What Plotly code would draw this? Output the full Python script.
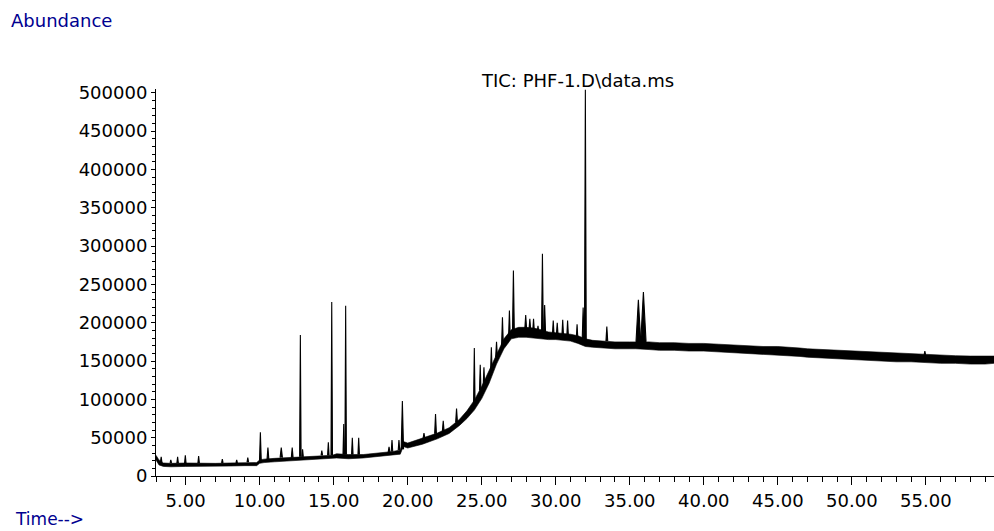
import plotly.graph_objects as go

# ---- data ----
# baseline band (time in min, lower and upper edge of the noisy trace)
band_time = [3.0, 3.2, 3.5, 4.0, 5.0, 6.0, 7.0, 8.0, 9.0, 9.8, 10.0, 10.3, 11.0, 12.0, 13.0,
             14.0, 14.9, 15.2, 16.0, 17.0, 18.0, 19.0, 19.5, 19.7, 20.0, 21.0, 22.0, 22.8,
             23.5, 24.0, 24.5, 25.0, 25.5, 26.0, 26.5, 27.0, 27.5, 28.0, 28.5, 29.0, 29.5,
             30.0, 30.5, 31.0, 31.5, 32.0, 32.5, 33.0, 34.0, 35.0, 35.4, 36.3, 37.0, 38.0,
             39.0, 40.0, 41.0, 42.0, 43.0, 44.0, 45.0, 45.6, 46.5, 47.0, 48.0, 49.0, 50.0,
             51.0, 52.0, 53.0, 54.0, 55.0, 56.0, 57.0, 58.0, 59.0, 59.6]
band_low = [21000, 14500, 12500, 12000, 12500, 12500, 12500, 13000, 13500, 13500, 16500, 17500,
            18500, 19500, 20500, 21500, 22500, 23500, 22500, 23500, 25500, 27500, 28500, 38500,
            36500, 41500, 48500, 55500, 66000, 75000, 86000, 101000, 121000, 146000, 166000,
            179000, 181000, 181000, 180000, 179000, 178000, 178000, 177000, 176000, 173000,
            169000, 168000, 167000, 166000, 166000, 166000, 165000, 164000, 164000, 163000,
            163000, 162000, 161000, 160000, 159000, 158000, 157500, 156000, 155000, 154000,
            153000, 152000, 151000, 150000, 149000, 149000, 148000, 147000, 147000, 146000,
            146000, 147000]
band_high = [27000, 21000, 17000, 16500, 17000, 16500, 16500, 17000, 17500, 17500, 21000, 22000,
             23000, 24000, 25000, 26000, 27000, 29000, 28000, 28000, 30000, 32000, 34000, 45000,
             43000, 49000, 56000, 63000, 74000, 85000, 99000, 117000, 137000, 159000, 179000,
             191000, 194000, 194000, 193000, 191000, 188000, 187000, 186000, 185000, 183000,
             179000, 177000, 176000, 175000, 175000, 175000, 175000, 174000, 174000, 173000,
             173000, 172000, 171000, 170000, 169000, 169000, 168500, 167000, 166000, 165000,
             164000, 163000, 162000, 161000, 160000, 159000, 158500, 157500, 157000, 156500,
             156000, 156500]

# resolved peaks: retention time, height at foot, apex height, half width (min)
peak_time = [3.35, 4.0, 4.46, 4.98, 5.88, 7.48, 8.45, 9.2, 10.05, 10.56, 11.46, 12.2, 12.75,
             12.9, 14.2, 14.64, 14.87, 15.68, 15.81, 16.26, 16.69, 18.74, 18.94, 19.41, 19.64,
             21.1, 21.88, 22.4, 23.3, 24.5, 24.9, 25.15, 25.65, 26.0, 26.4, 26.87, 27.14, 27.97,
             28.25, 28.5, 28.8, 29.1, 29.25, 29.83, 30.1, 30.47, 30.8, 31.44, 31.85, 32.0, 33.45,
             35.58, 35.92, 54.93]
peak_foot = [18000, 17000, 17000, 17000, 17000, 17000, 17000, 18000, 20000, 22000, 24000, 24000,
             25000, 25000, 27000, 27000, 27000, 28000, 28000, 28000, 28000, 31000, 32000, 34000,
             35000, 49000, 55000, 58000, 70000, 96000, 112000, 118000, 138000, 155000, 170000,
             185000, 190000, 192000, 192000, 190000, 188000, 188000, 188000, 186000, 186000,
             185000, 184000, 180000, 180000, 178000, 176000, 175000, 175000, 158000]
peak_top = [25000, 21000, 25000, 27000, 26000, 22000, 21000, 24000, 57000, 37000, 37000, 37000,
            184000, 35000, 33000, 44000, 227000, 68000, 222000, 50000, 50000, 38000, 47000, 47000,
            98000, 56000, 81000, 72000, 88000, 167000, 145000, 142000, 168000, 175000, 207000,
            216000, 268000, 210000, 205000, 205000, 196000, 290000, 223000, 203000, 200000,
            204000, 203000, 198000, 220000, 504000, 195000, 230000, 240000, 163000]
peak_half_width = [0.05, 0.05, 0.05, 0.05, 0.05, 0.05, 0.05, 0.05, 0.06, 0.06, 0.08, 0.06, 0.05,
                   0.05, 0.05, 0.05, 0.05, 0.05, 0.05, 0.05, 0.05, 0.06, 0.05, 0.05, 0.08,
                   0.06, 0.06, 0.06, 0.06, 0.05, 0.05, 0.05, 0.05, 0.06, 0.06, 0.05, 0.06, 0.06,
                   0.05, 0.05, 0.05, 0.06, 0.06, 0.05, 0.05, 0.05, 0.05, 0.05, 0.06, 0.06, 0.06,
                   0.16, 0.18, 0.05]

x_ticks_major = [5, 10, 15, 20, 25, 30, 35, 40, 45, 50, 55]
x_tick_text = ["5.00", "10.00", "15.00", "20.00", "25.00", "30.00", "35.00", "40.00", "45.00",
               "50.00", "55.00"]
y_ticks_major = [0, 50000, 100000, 150000, 200000, 250000, 300000, 350000, 400000, 450000, 500000]
y_tick_text = ["0", "50000", "100000", "150000", "200000", "250000", "300000", "350000",
               "400000", "450000", "500000"]

chart_title = "TIC: PHF-1.D\\data.ms"
y_label = "Abundance"
x_label = "Time-->"

# ---- build figure ----
px_ = []
py_ = []
for t, f, h, w in zip(peak_time, peak_foot, peak_top, peak_half_width):
    px_ += [t - w, t, t + w, None]
    py_ += [f, h, f, None]

FONT = "DejaVu Sans"
NAVY = "#000090"

fig = go.Figure()
fig.add_trace(go.Scatter(x=band_time, y=band_low, mode="lines",
                         line=dict(color="black", width=0.6), hoverinfo="skip"))
fig.add_trace(go.Scatter(x=band_time, y=band_high, mode="lines", fill="tonexty",
                         fillcolor="black", line=dict(color="black", width=0.6),
                         hoverinfo="skip"))
fig.add_trace(go.Scatter(x=px_, y=py_, mode="lines", fill="toself", fillcolor="black",
                         line=dict(color="black", width=1.1), connectgaps=False,
                         hoverinfo="skip"))

fig.update_layout(
    width=994, height=531,
    margin=dict(l=156, r=0, t=89, b=55),
    paper_bgcolor="white", plot_bgcolor="white",
    showlegend=False,
    font=dict(family=FONT, size=18, color="black"),
    xaxis=dict(range=[3, 59.6], showline=True, linecolor="black", linewidth=1,
               showgrid=False, zeroline=False, ticks="outside", ticklen=8,
               tickcolor="black", tickwidth=1,
               tickmode="array", tickvals=x_ticks_major, ticktext=x_tick_text,
               tickfont=dict(family=FONT, size=18, color="black"),
               minor=dict(tick0=0, dtick=1, ticks="outside", ticklen=5,
                          tickcolor="black", tickwidth=1, showgrid=False)),
    yaxis=dict(range=[0, 505000], showline=True, linecolor="black", linewidth=1,
               showgrid=False, zeroline=False, ticks="outside", ticklen=4,
               tickcolor="black", tickwidth=1,
               tickmode="array", tickvals=y_ticks_major, ticktext=y_tick_text,
               tickfont=dict(family=FONT, size=18, color="black"),
               minor=dict(tick0=0, dtick=10000, ticks="outside", ticklen=3,
                          tickcolor="black", tickwidth=1, showgrid=False)),
    annotations=[
        dict(text=chart_title, xref="paper", yref="paper", x=0.503, y=1.023,
             xanchor="center", yanchor="middle", showarrow=False,
             font=dict(family=FONT, size=18, color="black")),
        dict(text=y_label, xref="paper", yref="paper", x=-0.175, y=1.178,
             xanchor="left", yanchor="middle", showarrow=False,
             font=dict(family=FONT, size=18, color=NAVY)),
        dict(text=x_label, xref="paper", yref="paper", x=-0.171, y=-0.112,
             xanchor="left", yanchor="middle", showarrow=False,
             font=dict(family=FONT, size=17, color=NAVY)),
    ],
)

fig.write_html("out.html")
